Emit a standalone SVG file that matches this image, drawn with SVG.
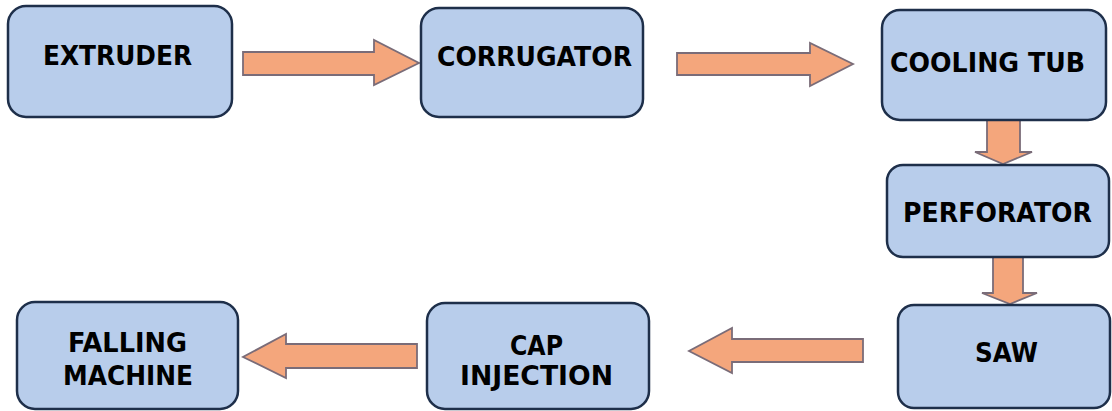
<svg xmlns="http://www.w3.org/2000/svg" width="1112" height="411" viewBox="0 0 1112 411">
<style>
.box{fill:#b8cdeb;stroke:#1e2f4a;stroke-width:2.5}
.arr{fill:#f4a67c;stroke:#7a6c78;stroke-width:1.8;stroke-linejoin:miter}
.t{font-family:"DejaVu Sans","Verdana",sans-serif;font-weight:bold;font-size:26px;fill:#000}
.b{font-size:27px}
</style>
<rect width="1112" height="411" fill="#ffffff"/>
<g id="connectors">
<polygon class="arr" points="243,52 374,52 374,40 419,63 374,85 374,75 243,75"/>
<polygon class="arr" points="677,53 810,53 810,43 853,64 810,86 810,75 677,75"/>
<polygon class="arr" points="987,120 1020,120 1020,152 1032,152 1003,164 975,152 987,152"/>
<polygon class="arr" points="993,257 1023,257 1023,293 1037,293 1010,304 982,293 993,293"/>
<polygon class="arr" points="863,339 863,362 732,362 732,373 689,351 732,328 732,339"/>
<polygon class="arr" points="417,344 417,368 286,368 286,378 243,357 286,334 286,344"/>
</g>
<g id="extruder">
<rect class="box" x="8" y="6" width="224" height="111" rx="18"/>
<text class="t" x="43" y="65" textLength="149" lengthAdjust="spacingAndGlyphs">EXTRUDER</text>
</g>
<g id="corrugator">
<rect class="box" x="421" y="8" width="222" height="109" rx="18"/>
<text class="t" x="437" y="66" textLength="195" lengthAdjust="spacingAndGlyphs">CORRUGATOR</text>
</g>
<g id="cooling-tub">
<rect class="box" x="882" y="10" width="224" height="110" rx="18"/>
<text class="t" x="890" y="72" textLength="195" lengthAdjust="spacingAndGlyphs">COOLING TUB</text>
</g>
<g id="perforator">
<rect class="box" x="887" y="165" width="222" height="92" rx="16"/>
<text class="t" x="903" y="222" textLength="189" lengthAdjust="spacingAndGlyphs">PERFORATOR</text>
</g>
<g id="saw">
<rect class="box" x="898" y="305" width="212" height="103" rx="16"/>
<text class="t" x="975" y="362" textLength="63" lengthAdjust="spacingAndGlyphs">SAW</text>
</g>
<g id="cap-injection">
<rect class="box" x="427" y="303" width="222" height="106" rx="18"/>
<text class="t b" x="510" y="355" textLength="53" lengthAdjust="spacingAndGlyphs">CAP</text>
<text class="t b" x="460" y="385" textLength="153" lengthAdjust="spacingAndGlyphs">INJECTION</text>
</g>
<g id="falling-machine">
<rect class="box" x="17" y="302" width="221" height="107" rx="18"/>
<text class="t b" x="68" y="352" textLength="119" lengthAdjust="spacingAndGlyphs">FALLING</text>
<text class="t b" x="63" y="385" textLength="130" lengthAdjust="spacingAndGlyphs">MACHINE</text>
</g>
</svg>
